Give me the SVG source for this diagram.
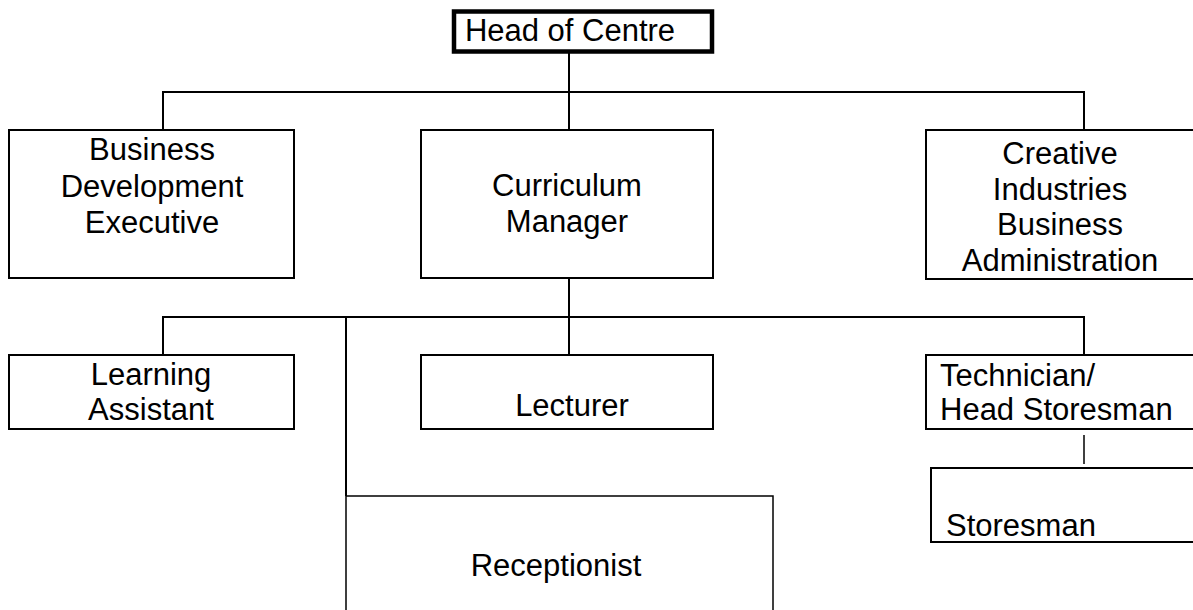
<svg xmlns="http://www.w3.org/2000/svg" width="1193" height="610" viewBox="0 0 1193 610">
  <style>
    .box { fill: #ffffff; stroke: #000000; stroke-width: 2; }
    .head { fill: #ffffff; stroke: #000000; stroke-width: 4.5; }
    .thin { stroke-width: 1.5; }
    .lbl { font-family: "Liberation Sans", Arial, sans-serif; font-size: 31px; fill: #000000; }
    .c { text-anchor: middle; }
    #connectors line { stroke: #000000; stroke-width: 2; }
  </style>
  <rect width="1193" height="610" fill="#ffffff"/>

  <g id="connectors">
    <line x1="569" y1="53" x2="569" y2="92"/>
    <line x1="162" y1="92" x2="1085" y2="92"/>
    <line x1="163" y1="92" x2="163" y2="130"/>
    <line x1="569" y1="92" x2="569" y2="130"/>
    <line x1="1084" y1="92" x2="1084" y2="130"/>
    <line x1="569" y1="278" x2="569" y2="317"/>
    <line x1="162" y1="317" x2="1085" y2="317"/>
    <line x1="163" y1="317" x2="163" y2="355"/>
    <line x1="346" y1="317" x2="346" y2="496"/>
    <line x1="569" y1="317" x2="569" y2="355"/>
    <line x1="1084" y1="317" x2="1084" y2="355"/>
    <line x1="1084" y1="435" x2="1084" y2="464" style="stroke-width:1.5"/>
  </g>

  <g id="head-of-centre">
    <rect class="head" x="454" y="11.5" width="258" height="40"/>
    <text class="lbl c" x="570" y="41">Head of Centre</text>
  </g>

  <g id="business-development-executive">
    <rect class="box" x="9" y="130" width="285" height="148"/>
    <text class="lbl c" x="152" y="160">Business</text>
    <text class="lbl c" x="152" y="196.5">Development</text>
    <text class="lbl c" x="152" y="233">Executive</text>
  </g>

  <g id="curriculum-manager">
    <rect class="box" x="421" y="130" width="292" height="148"/>
    <text class="lbl c" x="567" y="196">Curriculum</text>
    <text class="lbl c" x="567" y="232">Manager</text>
  </g>

  <g id="creative-industries">
    <rect class="box" x="926" y="130" width="280" height="149"/>
    <text class="lbl c" x="1060" y="164">Creative</text>
    <text class="lbl c" x="1060" y="199.5">Industries</text>
    <text class="lbl c" x="1060" y="235">Business</text>
    <text class="lbl c" x="1060" y="270.5">Administration</text>
  </g>

  <g id="learning-assistant">
    <rect class="box" x="9" y="355" width="285" height="74"/>
    <text class="lbl c" x="151" y="385">Learning</text>
    <text class="lbl c" x="151" y="420">Assistant</text>
  </g>

  <g id="lecturer">
    <rect class="box" x="421" y="355" width="292" height="74"/>
    <text class="lbl c" x="572" y="416">Lecturer</text>
  </g>

  <g id="technician">
    <rect class="box" x="926" y="355" width="280" height="74"/>
    <text class="lbl" x="940" y="386">Technician/</text>
    <text class="lbl" x="940" y="420">Head Storesman</text>
  </g>

  <g id="storesman">
    <rect class="box" x="931" y="468" width="275" height="74"/>
    <text class="lbl" x="946" y="536">Storesman</text>
  </g>

  <g id="receptionist">
    <rect class="box thin" x="346" y="496" width="427" height="130"/>
    <text class="lbl c" x="556" y="576">Receptionist</text>
  </g>
</svg>
